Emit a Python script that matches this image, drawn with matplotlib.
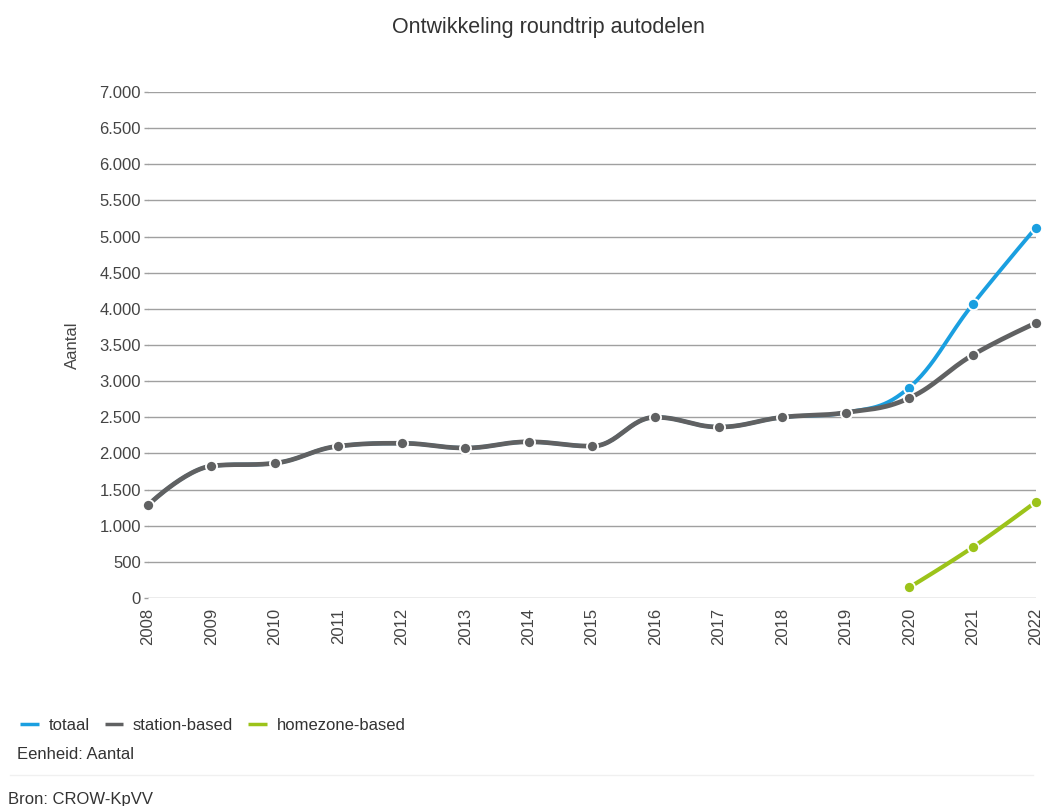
import matplotlib
matplotlib.use("Agg")
import matplotlib.pyplot as plt
import numpy as np

plt.rcParams['font.family'] = ['Liberation Sans', 'DejaVu Sans']

years = list(range(2008, 2023))
station_based = [1285, 1825, 1865, 2100, 2140, 2075, 2160, 2100, 2500, 2365, 2500, 2565, 2765, 3360, 3805]
totaal = [1285, 1825, 1865, 2100, 2140, 2075, 2160, 2100, 2500, 2365, 2500, 2565, 2910, 4060, 5125]
homezone_years = [2020, 2021, 2022]
homezone_based = [145, 700, 1330]

yticks = list(range(0, 7001, 500))
ytick_labels = ['{:,}'.format(v).replace(',', '.') for v in yticks]

c_blue = '#1a9fe0'
c_gray = '#606162'
c_green = '#9cc31a'


def spline(xs, ys, smoothing=1.5, n=30):
    # highcharts-like spline through the points
    xs = np.asarray(xs, float)
    ys = np.asarray(ys, float)
    m = len(xs)
    left = [None] * m
    right = [None] * m
    for i in range(m):
        px, py = xs[i], ys[i]
        if i == 0 or i == m - 1:
            left[i] = (px, py)
            right[i] = (px, py)
            continue
        lx, ly = xs[i - 1], ys[i - 1]
        nx, ny = xs[i + 1], ys[i + 1]
        d = smoothing + 1
        lcx = (smoothing * px + lx) / d
        lcy = (smoothing * py + ly) / d
        rcx = (smoothing * px + nx) / d
        rcy = (smoothing * py + ny) / d
        corr = (rcy - lcy) * (rcx - px) / (rcx - lcx) + py - rcy
        lcy += corr
        rcy += corr
        if lcy > ly and lcy > py:
            lcy = max(ly, py)
            rcy = 2 * py - lcy
        elif lcy < ly and lcy < py:
            lcy = min(ly, py)
            rcy = 2 * py - lcy
        if rcy > ny and rcy > py:
            rcy = max(ny, py)
            lcy = 2 * py - rcy
        elif rcy < ny and rcy < py:
            rcy = min(ny, py)
            lcy = 2 * py - rcy
        left[i] = (lcx, lcy)
        right[i] = (rcx, rcy)
    outx, outy = [xs[0]], [ys[0]]
    t = np.linspace(0, 1, n)[1:]
    for i in range(1, m):
        p0 = (xs[i - 1], ys[i - 1])
        p1 = right[i - 1]
        p2 = left[i]
        p3 = (xs[i], ys[i])
        bx = (1 - t) ** 3 * p0[0] + 3 * (1 - t) ** 2 * t * p1[0] + 3 * (1 - t) * t ** 2 * p2[0] + t ** 3 * p3[0]
        by = (1 - t) ** 3 * p0[1] + 3 * (1 - t) ** 2 * t * p1[1] + 3 * (1 - t) * t ** 2 * p2[1] + t ** 3 * p3[1]
        outx.extend(bx)
        outy.extend(by)
    return outx, outy


fig = plt.figure(figsize=(10.43, 8.06), dpi=100)
ax = fig.add_axes([0.1419, 0.2581, 0.8514, 0.6278])

series = [
    (years, totaal, c_blue, 'totaal', 3, 2.8),
    (years, station_based, c_gray, 'station-based', 4, 3.4),
    (homezone_years, homezone_based, c_green, 'homezone-based', 4, 3),
]
handles = []
for xs, ys, col, lab, z, lw in series:
    sx, sy = spline(xs, ys)
    h, = ax.plot(sx, sy, color=col, lw=lw, label=lab, zorder=z, solid_capstyle='round', clip_on=False)
    ax.plot(xs, ys, 'o', color=col, ms=8, mec='white', mew=1.3, zorder=z + 0.5, clip_on=False)
    handles.append(h)

ax.set_xlim(2008, 2022)
ax.set_ylim(0, 7000)
ax.set_yticks(yticks)
ax.set_yticklabels(ytick_labels)
ax.set_xticks(years)
ax.set_xticklabels([str(y) for y in years], rotation=90)
ax.grid(axis='y', color='#a0a0a0', lw=1)
ax.set_axisbelow(True)
for s in ax.spines.values():
    s.set_visible(False)
ax.tick_params(axis='y', length=3, width=1, color='#a0a0a0', labelsize=12, labelcolor='#444444', pad=2)
ax.tick_params(axis='x', length=0, labelsize=12, labelcolor='#444444', pad=7)
ax.set_ylabel('Aantal', fontsize=12, color='#444444', labelpad=14)

fig.text(0.5263, 0.966, 'Ontwikkeling roundtrip autodelen', ha='center', va='center', fontsize=15.5, color='#333333')

leg = fig.legend(handles=handles, loc='center left', bbox_to_anchor=(0.005, 0.1), ncol=3, frameon=False,
                 fontsize=12, handlelength=1.1, handletextpad=0.6, columnspacing=0.9)
for t in leg.get_texts():
    t.set_color('#333333')
for h in leg.legend_handles:
    h.set_linewidth(2.5)
    h.set_solid_capstyle('butt')

fig.text(0.016, 0.064, 'Eenheid: Aantal', ha='left', va='center', fontsize=12, color='#333333')
fig.add_artist(plt.Line2D([0.01, 0.99], [0.038, 0.038], color='#f0f0f0', lw=1))
fig.text(0.008, 0.008, 'Bron: CROW-KpVV', ha='left', va='center', fontsize=12, color='#333333')

fig.savefig('out.png', dpi=100)
